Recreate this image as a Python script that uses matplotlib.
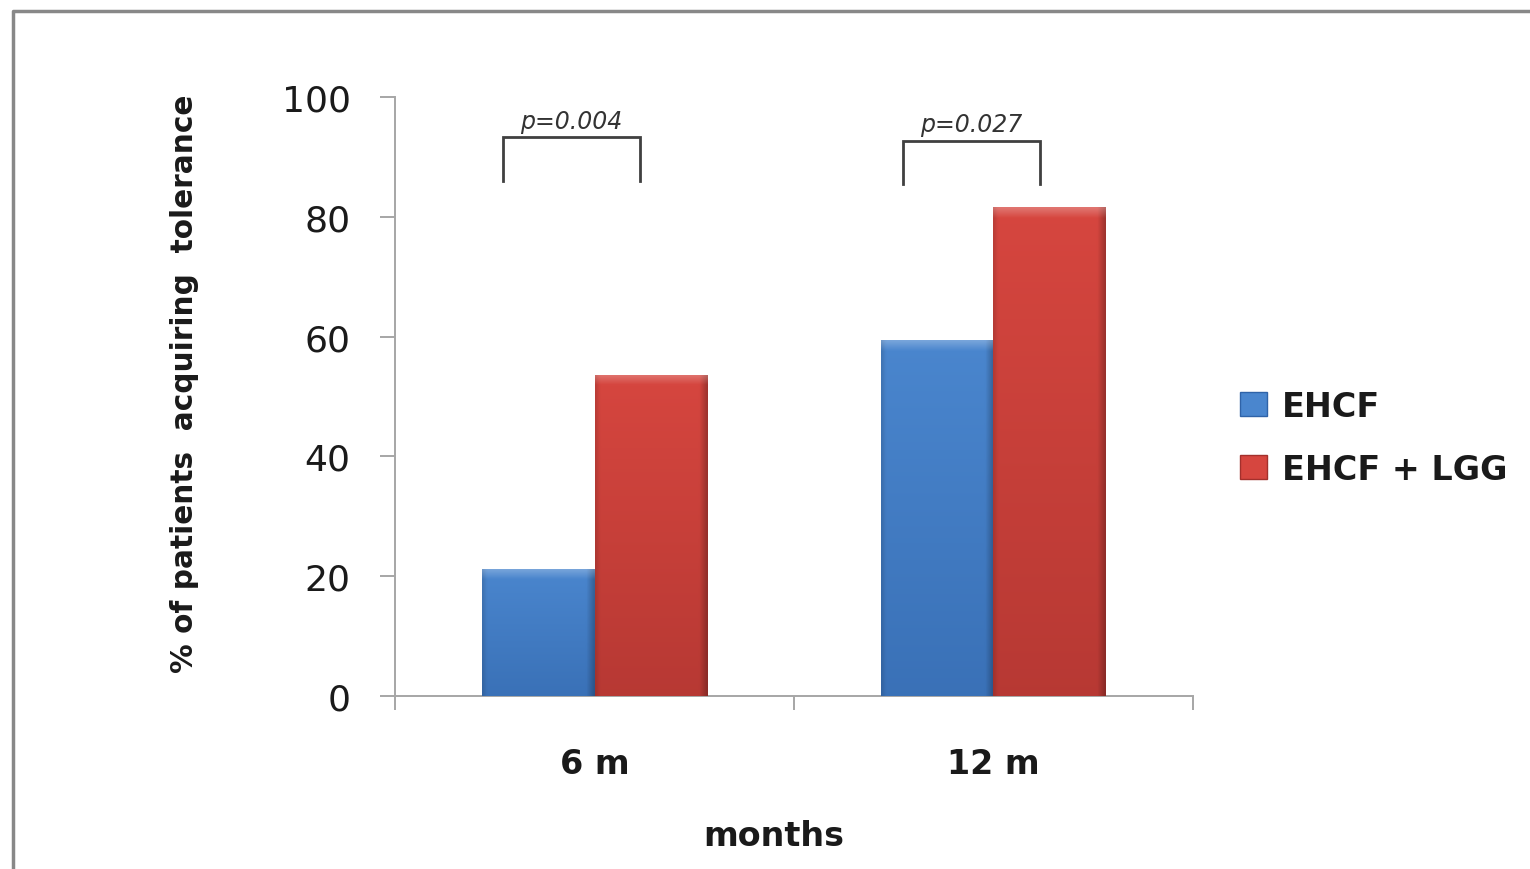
import numpy as np
import matplotlib
matplotlib.use("Agg")
import matplotlib.pyplot as plt
from matplotlib.lines import Line2D
from matplotlib.patches import Patch
from matplotlib.colors import to_rgb

categories = ["6 m", "12 m"]
series_names = ["EHCF", "EHCF + LGG"]
ehcf = [21.2, 59.4]
ehcf_lgg = [53.6, 81.6]
p_values = ["p=0.004", "p=0.027"]
y_ticks = [0, 20, 40, 60, 80, 100]

plt.rcParams["font.family"] = ["DejaVu Sans"]

fig = plt.figure(figsize=(15.3, 8.7), dpi=100)
ax = fig.add_axes([0.2582, 0.1989, 0.5215, 0.6885])

x = np.arange(len(categories))
width = 0.283
blue_top, blue_bot = "#4a86ce", "#2f63a8"
red_top, red_bot = "#d6463f", "#a3302c"

bars_a = ax.bar(x - width / 2, ehcf, width, color=blue_top, zorder=2)
bars_b = ax.bar(x + width / 2, ehcf_lgg, width, color=red_top, zorder=2)


def shade(bars, top, bot):
    """Fill each bar with a bevelled vertical gradient clipped to the bar."""
    t = np.array(to_rgb(top))
    b = np.array(to_rgb(bot))
    for bar in bars:
        x0, w, h = bar.get_x(), bar.get_width(), bar.get_height()
        ny, nx = 200, 60
        fy = np.linspace(0, 1, ny)[:, None]  # 0 at top, 1 at bottom
        fx = np.linspace(0, 1, nx)[None, :]
        base = t[None, None, :] * (1 - 0.6 * fy[..., None]) + b[None, None, :] * (0.6 * fy[..., None])
        img = np.repeat(base, nx, axis=1)
        # darker right rim, soft left rim, light top bevel
        rim_r = np.clip((fx - 0.93) / 0.07, 0, 1)[..., None]
        rim_l = np.clip((0.04 - fx) / 0.04, 0, 1)[..., None]
        img = img * (1 - 0.25 * rim_r) * (1 - 0.12 * rim_l)
        px_top = 10 / (h * 6.0)
        top_band = np.clip((px_top - fy) / px_top, 0, 1)[..., None]
        img = img + (1 - img) * 0.25 * top_band
        im = ax.imshow(np.clip(img, 0, 1), extent=(x0, x0 + w, 0, h),
                       aspect="auto", origin="upper", zorder=3,
                       interpolation="bilinear")
        im.set_clip_path(bar)


shade(bars_a, blue_top, blue_bot)
shade(bars_b, red_top, red_bot)

ax.set_xlim(-0.5, len(categories) - 0.5)
ax.set_ylim(0, 100)

# axes styling
for side in ["top", "right"]:
    ax.spines[side].set_visible(False)
for side in ["left", "bottom"]:
    ax.spines[side].set_color("#a6a6a6")
    ax.spines[side].set_linewidth(1.4)

ax.set_yticks(y_ticks)
ax.set_yticklabels([str(v) for v in y_ticks], fontsize=26, color="#1a1a1a")
ax.tick_params(axis="y", length=11, width=1.4, color="#a6a6a6", pad=21)

ax.set_xticks(x)
ax.set_xticklabels(categories, fontsize=24, fontweight="bold", color="#1a1a1a")
ax.tick_params(axis="x", which="major", length=0, pad=37)
ax.set_xticks(np.arange(len(categories) + 1) - 0.5, minor=True)
ax.tick_params(axis="x", which="minor", length=10, width=1.4, color="#a6a6a6")

ax.set_ylabel("% of patients  acquiring  tolerance", fontsize=21.3,
              fontweight="bold", color="#1a1a1a")
ax.yaxis.set_label_coords(-0.246, 0.523)
ax.set_xlabel("months", fontsize=24, fontweight="bold", color="#1a1a1a")
ax.xaxis.set_label_coords(0.475, -0.205)

# significance brackets
bracket_left = [-0.229, -0.227]
bracket_right = [0.114, 0.117]
bracket_top = [93.3, 92.7]
bracket_bottom = [86.0, 85.5]
for i, p in enumerate(p_values):
    xl, xr = x[i] + bracket_left[i], x[i] + bracket_right[i]
    ax.plot([xl, xl, xr, xr], [bracket_bottom[i], bracket_top[i], bracket_top[i], bracket_bottom[i]],
            color="#404040", lw=2.0, zorder=4, solid_joinstyle="miter")
    ax.text((xl + xr) / 2, bracket_top[i] + 0.7, p, ha="center", va="bottom",
            fontsize=17, style="italic", color="#333333")

# legend
handles = [Patch(facecolor=blue_top, edgecolor=blue_bot),
           Patch(facecolor=red_top, edgecolor=red_bot)]
leg = fig.legend(handles, series_names, loc="center left",
                 bbox_to_anchor=(0.791, 0.4955), frameon=False,
                 handlelength=0.8, handleheight=0.75,
                 handletextpad=0.45, labelspacing=0.9,
                 prop={"weight": "bold", "size": 24})
for t in leg.get_texts():
    t.set_color("#1a1a1a")

# outer frame
frame = Line2D([0.0085, 0.0085, 1.0], [0.0, 0.986, 0.986],
               transform=fig.transFigure, color="#888888", lw=2.5)
fig.add_artist(frame)

fig.savefig("out.png", dpi=100, facecolor="white")
